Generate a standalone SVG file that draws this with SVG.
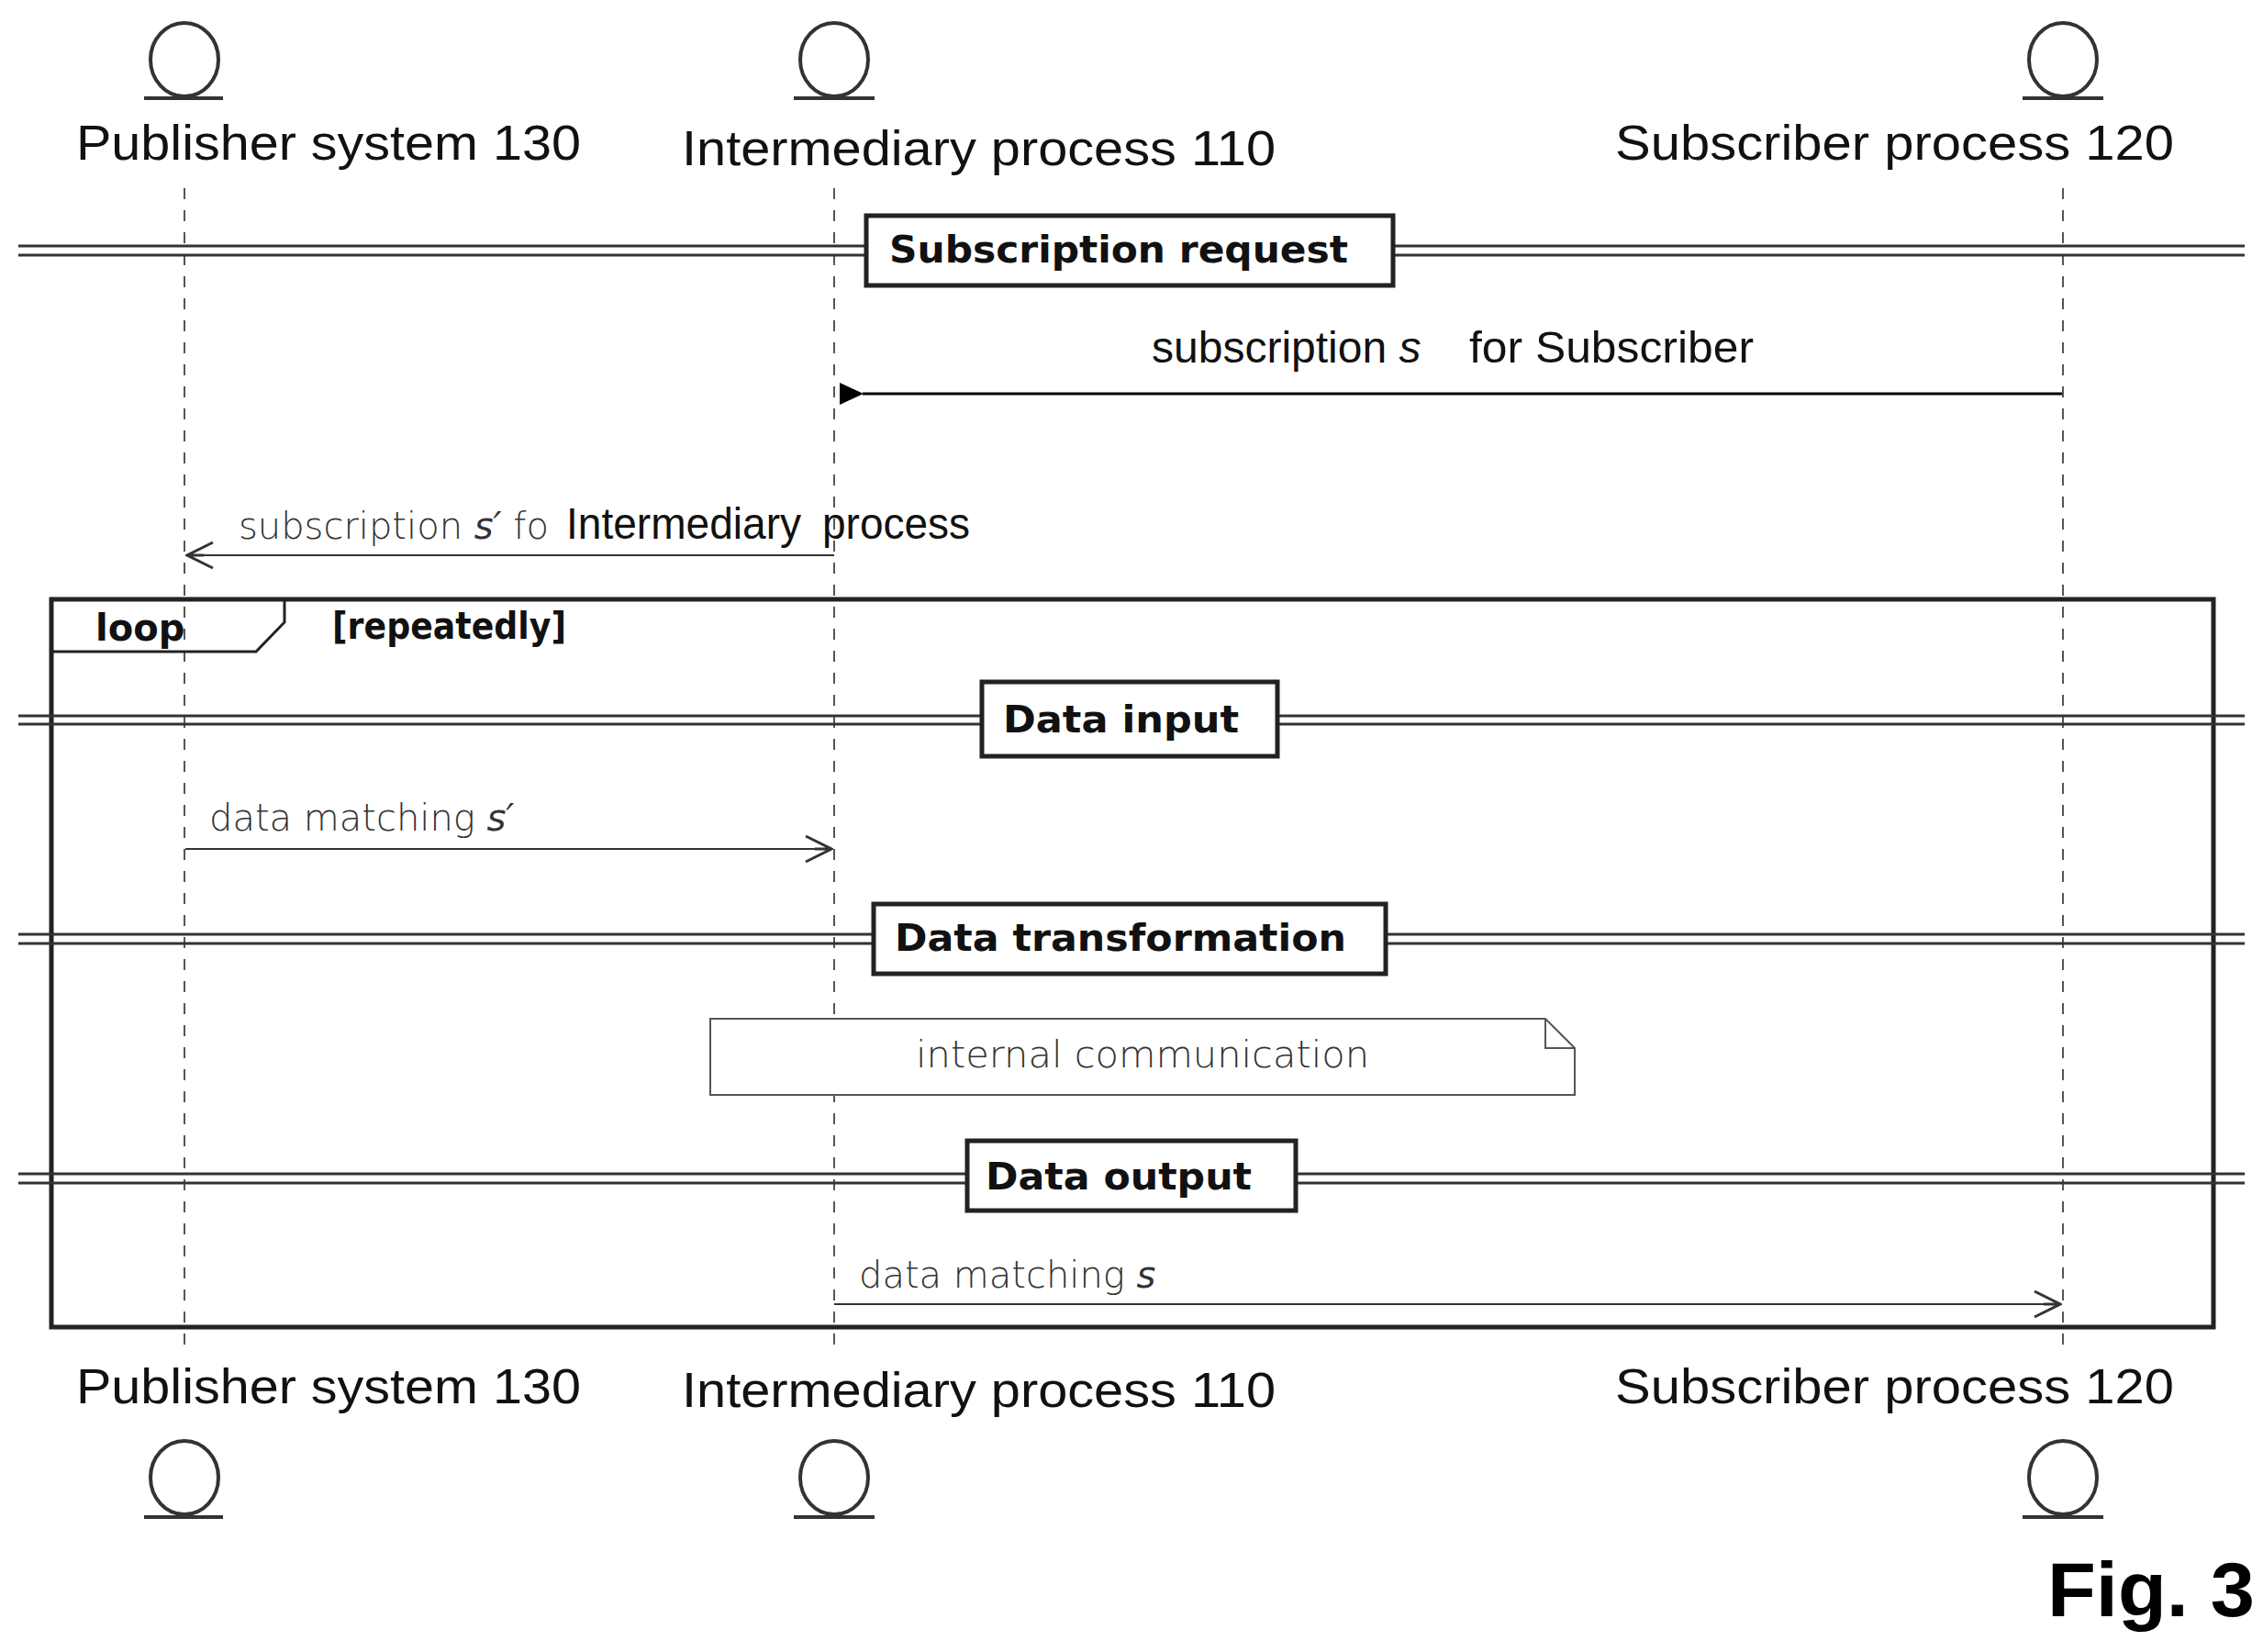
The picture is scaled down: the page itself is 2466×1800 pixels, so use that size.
<svg xmlns="http://www.w3.org/2000/svg" width="2466" height="1800" viewBox="0 0 2466 1800">
<style>
.lbl{font-family:"Liberation Sans",Arial,sans-serif;font-size:54px;fill:#111}
.msg{font-family:"Liberation Sans",Arial,sans-serif;font-size:48px;fill:#111}
.thin{font-family:"DejaVu Sans",sans-serif;font-weight:200;font-size:40px;fill:#333}
.div{font-family:"DejaVu Sans",sans-serif;font-weight:bold;font-size:40px;fill:#111}
.life{stroke:#555;stroke-width:2;stroke-dasharray:12 12;fill:none}
.actor{fill:none;stroke:#333;stroke-width:4}
.dl{stroke:#333;stroke-width:3;fill:none}
.box{fill:#fff;stroke:#222;stroke-width:5}
</style>
<defs>
<marker id="fill" markerWidth="26" markerHeight="24" refX="1" refY="12" orient="auto" markerUnits="userSpaceOnUse" viewBox="0 0 26 24"><path d="M26,0 L0,12 L26,24 Z" fill="#000"/></marker>
<marker id="open" markerWidth="40" markerHeight="40" refX="38" refY="20" orient="auto-start-reverse" markerUnits="userSpaceOnUse" viewBox="0 0 40 40"><path d="M10,6 L38,20 L10,34 M38,20 L20,20" fill="none" stroke="#333" stroke-width="3"/></marker>
</defs>
<g id="lifelines">
<line class="life" x1="201" y1="205" x2="201" y2="1470"/>
<line class="life" x1="909" y1="205" x2="909" y2="1470"/>
<line class="life" x1="2248" y1="205" x2="2248" y2="1470"/>
</g>
<g id="actor-publisher">
<ellipse class="actor" cx="201" cy="65" rx="37" ry="40"/><line class="actor" x1="157" y1="107" x2="243" y2="107"/>
<text class="lbl" x="83" y="174" textLength="550" lengthAdjust="spacingAndGlyphs">Publisher system 130</text>
<text class="lbl" x="83" y="1529" textLength="550" lengthAdjust="spacingAndGlyphs">Publisher system 130</text>
<ellipse class="actor" cx="201" cy="1610" rx="37" ry="40"/><line class="actor" x1="157" y1="1653" x2="243" y2="1653"/>
</g>
<g id="actor-intermediary">
<ellipse class="actor" cx="909" cy="65" rx="37" ry="40"/><line class="actor" x1="865" y1="107" x2="953" y2="107"/>
<text class="lbl" x="743" y="180" textLength="647" lengthAdjust="spacingAndGlyphs">Intermediary process 110</text>
<text class="lbl" x="743" y="1533" textLength="647" lengthAdjust="spacingAndGlyphs">Intermediary process 110</text>
<ellipse class="actor" cx="909" cy="1610" rx="37" ry="40"/><line class="actor" x1="865" y1="1653" x2="953" y2="1653"/>
</g>
<g id="actor-subscriber">
<ellipse class="actor" cx="2248" cy="65" rx="37" ry="40"/><line class="actor" x1="2204" y1="107" x2="2292" y2="107"/>
<text class="lbl" x="1760" y="174" textLength="609" lengthAdjust="spacingAndGlyphs">Subscriber process 120</text>
<text class="lbl" x="1760" y="1529" textLength="609" lengthAdjust="spacingAndGlyphs">Subscriber process 120</text>
<ellipse class="actor" cx="2248" cy="1610" rx="37" ry="40"/><line class="actor" x1="2204" y1="1653" x2="2292" y2="1653"/>
</g>
<g id="loop">
<rect x="56" y="653" width="2356" height="793" fill="none" stroke="#222" stroke-width="5"/>
<path d="M56,710 L279,710 L310,678 L310,653" fill="none" stroke="#222" stroke-width="3"/>
<text class="div" x="104" y="698" font-size="42">loop</text>
<text class="div" x="362" y="696" font-size="34" textLength="255" lengthAdjust="spacingAndGlyphs">[repeatedly]</text>
</g>
<g id="div-subscription">
<line class="dl" x1="20" y1="268" x2="2446" y2="268"/><line class="dl" x1="20" y1="278" x2="2446" y2="278"/>
<rect class="box" x="944" y="235" width="574" height="76"/>
<text class="div" x="969" y="286" textLength="500" lengthAdjust="spacingAndGlyphs">Subscription request</text>
</g>
<g id="div-input">
<line class="dl" x1="20" y1="780" x2="2446" y2="780"/><line class="dl" x1="20" y1="789" x2="2446" y2="789"/>
<rect class="box" x="1070" y="743" width="322" height="81"/>
<text class="div" x="1093" y="798" textLength="257" lengthAdjust="spacingAndGlyphs">Data input</text>
</g>
<g id="div-transformation">
<line class="dl" x1="20" y1="1018" x2="2446" y2="1018"/><line class="dl" x1="20" y1="1028" x2="2446" y2="1028"/>
<rect class="box" x="952" y="985" width="558" height="76"/>
<text class="div" x="975" y="1036" textLength="492" lengthAdjust="spacingAndGlyphs">Data transformation</text>
</g>
<g id="div-output">
<line class="dl" x1="20" y1="1279" x2="2446" y2="1279"/><line class="dl" x1="20" y1="1289" x2="2446" y2="1289"/>
<rect class="box" x="1054" y="1243" width="358" height="76"/>
<text class="div" x="1074" y="1296" textLength="290" lengthAdjust="spacingAndGlyphs">Data output</text>
</g>
<g id="note">
<path d="M774,1110 L1684,1110 L1716,1142 L1716,1193 L774,1193 Z M1684,1110 L1684,1142 L1716,1142" fill="#fff" stroke="#555" stroke-width="2"/>
<text class="thin" x="998" y="1163" textLength="494" lengthAdjust="spacingAndGlyphs">internal communication</text>
</g>
<g id="connectors">
<line x1="2247" y1="429" x2="940" y2="429" stroke="#000" stroke-width="3" marker-end="url(#fill)"/>
<line x1="909" y1="605" x2="204" y2="605" stroke="#333" stroke-width="2" marker-end="url(#open)"/>
<line x1="202" y1="925" x2="906" y2="925" stroke="#333" stroke-width="2" marker-end="url(#open)"/>
<line x1="909" y1="1421" x2="2245" y2="1421" stroke="#333" stroke-width="2" marker-end="url(#open)"/>
<text class="msg" x="1255" y="395">subscription <tspan font-style="italic">s</tspan></text>
<text class="msg" x="1601" y="395" textLength="310" lengthAdjust="spacingAndGlyphs">for Subscriber</text>
<text class="thin" x="260" y="587">subscription <tspan font-style="italic">s′</tspan> fo</text>
<text class="msg" x="617" y="587" textLength="256" lengthAdjust="spacingAndGlyphs">Intermediary</text>
<text class="msg" x="896" y="587" textLength="161" lengthAdjust="spacingAndGlyphs">process</text>
<text class="thin" x="228" y="905">data matching <tspan font-style="italic">s′</tspan></text>
<text class="thin" x="936" y="1403">data matching <tspan font-style="italic">s</tspan></text>
</g>
<text x="2231" y="1761" font-family="Liberation Sans,Arial,sans-serif" font-weight="bold" font-size="84" fill="#000" textLength="226" lengthAdjust="spacingAndGlyphs">Fig. 3</text>
</svg>
